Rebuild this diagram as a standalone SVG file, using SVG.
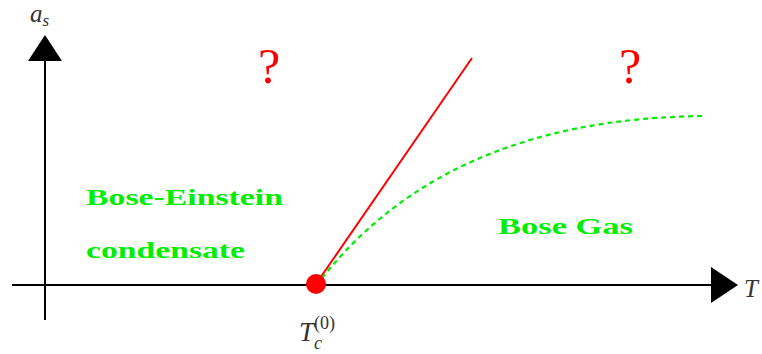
<svg xmlns="http://www.w3.org/2000/svg" width="762" height="354" viewBox="0 0 762 354">
<style>
.ax{stroke:#000;stroke-width:2;fill:none}
.lbl{font-family:"Liberation Serif",serif;font-style:italic;fill:#333}
.green{font-family:"Liberation Serif",serif;font-weight:bold;fill:#00ee00;font-size:24px}
.q{font-family:"Liberation Serif",serif;fill:#ff0000;font-size:50px}
</style>
<rect width="762" height="354" fill="#fff"/>
<g id="axes">
<line class="ax" x1="45" y1="320" x2="45" y2="60"/>
<polygon points="28,61 62,61 45,35" fill="#000"/>
<line class="ax" x1="12" y1="285" x2="712" y2="285"/>
<polygon points="711,267 711,303 738,285" fill="#000"/>
</g>
<g id="connectors">
<line x1="316" y1="284" x2="472" y2="58" stroke="#ff0000" stroke-width="2"/>
<path d="M322,278 C400,180 520,118 703,116" fill="none" stroke="#00ee00" stroke-width="2.2" stroke-dasharray="5,4"/>
</g>
<g id="tc-point">
<circle cx="316" cy="284" r="10" fill="#ff0000"/>
</g>
<g id="labels">
<text class="lbl" x="30" y="22" font-size="25">a<tspan font-size="17" dy="4">s</tspan></text>
<text class="lbl" x="744" y="297" font-size="25">T</text>
<text class="lbl" x="299" y="341" font-size="27">T<tspan font-size="18" dy="8">c</tspan><tspan font-style="normal" font-size="18" dx="-8" dy="-20">(0)</tspan></text>
<text class="q" x="258" y="83">?</text>
<text class="q" x="619" y="83">?</text>
<text class="green" x="86" y="205" textLength="197" lengthAdjust="spacingAndGlyphs">Bose-Einstein</text>
<text class="green" x="86" y="258" textLength="159" lengthAdjust="spacingAndGlyphs">condensate</text>
<text class="green" x="498" y="234" textLength="135" lengthAdjust="spacingAndGlyphs">Bose Gas</text>
</g>
</svg>
